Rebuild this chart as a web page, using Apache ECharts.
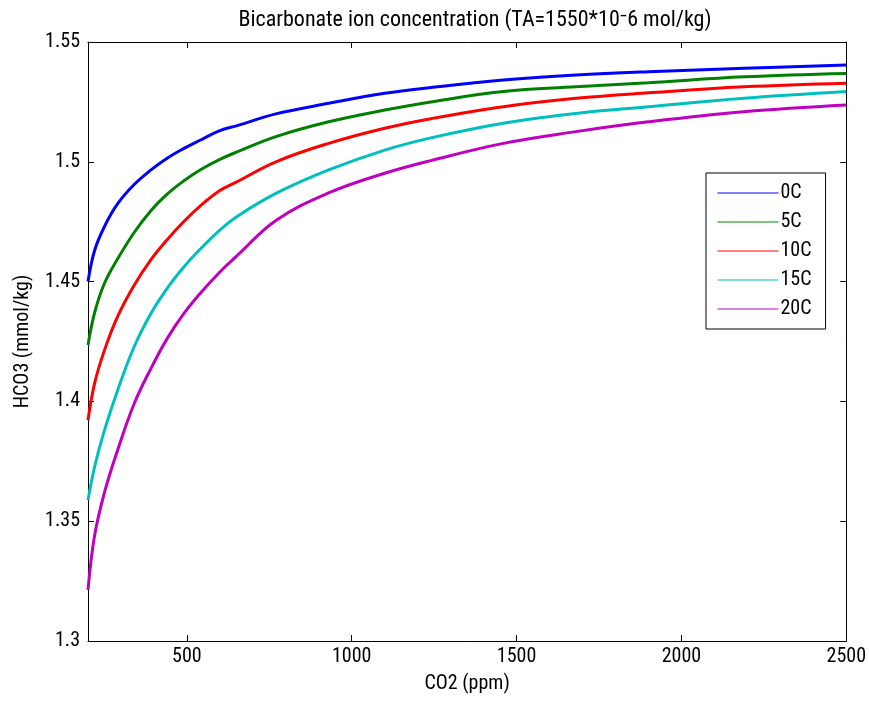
<!DOCTYPE html>
<html>
<head>
<meta charset="utf-8">
<script src="https://cdn.jsdelivr.net/npm/echarts@6/dist/echarts.min.js"></script>
<style>html,body{margin:0;padding:0;background:#fff;}#c{width:869px;height:702px;}</style>
</head>
<body>
<div id="c"></div>
<script>
const co2 = [200, 220, 250, 290, 340, 390, 440, 490, 540, 600, 650, 770, 930, 1100, 1240, 1460, 1680, 1900, 2190, 2500];
const t0  = [1.4500, 1.4630, 1.4730, 1.4825, 1.4905, 1.4965, 1.5015, 1.5055, 1.5090, 1.5130, 1.5150, 1.5200, 1.5244, 1.5286, 1.5310, 1.5341, 1.5362, 1.5376, 1.5390, 1.5404];
const t5  = [1.4235, 1.4370, 1.4493, 1.4595, 1.4705, 1.4795, 1.4865, 1.4920, 1.4966, 1.5010, 1.5040, 1.5105, 1.5167, 1.5216, 1.5250, 1.5293, 1.5313, 1.5330, 1.5355, 1.5369];
const t10 = [1.3922, 1.4075, 1.4214, 1.4355, 1.4485, 1.4590, 1.4675, 1.4750, 1.4815, 1.4880, 1.4915, 1.5000, 1.5077, 1.5140, 1.5180, 1.5230, 1.5265, 1.5288, 1.5313, 1.5328];
const t15 = [1.3588, 1.3727, 1.3880, 1.4047, 1.4228, 1.4365, 1.4472, 1.4560, 1.4635, 1.4715, 1.4770, 1.4868, 1.4966, 1.5049, 1.5100, 1.5161, 1.5202, 1.5230, 1.5265, 1.5293];
const t20 = [1.3213, 1.3440, 1.3620, 1.3797, 1.3990, 1.4135, 1.4262, 1.4365, 1.4450, 1.4540, 1.4605, 1.4755, 1.4870, 1.4952, 1.5005, 1.5077, 1.5126, 1.5167, 1.5209, 1.5237];
const seriesNames = ['0C', '5C', '10C', '15C', '20C'];
const seriesColors = ['#0000ff', '#008000', '#ff0000', '#00bfbf', '#bf00bf'];
const xTicks = [500, 1000, 1500, 2000, 2500];
const yTicks = [1.3, 1.35, 1.4, 1.45, 1.5, 1.55];

const allData = [t0, t5, t10, t15, t20];
const FONT = '"Roboto Condensed", "DejaVu Sans Condensed", "Liberation Sans", sans-serif';
const FS = 20;

const chart = echarts.init(document.getElementById('c'), null, {renderer: 'canvas'});
const tickStyle = {show: true, inside: true, length: 6, lineStyle: {color: '#000', width: 1}};
const option = {
  animation: false,
  backgroundColor: '#fff',
  title: {
    text: 'Bicarbonate ion concentration (TA=1550*10⁻6 mol/kg)',
    left: 470, top: 4, textAlign: 'center',
    textStyle: {fontFamily: FONT, fontSize: 22, fontWeight: 'normal', color: '#000'}
  },
  grid: {left: 88, right: 22, top: 42, bottom: 61, containLabel: false, show: false},
  legend: {
    data: seriesNames,
    orient: 'vertical',
    left: 706, top: 173,
    itemWidth: 61, itemHeight: 14, itemGap: 9,
    padding: [10, 14, 10, 11],
    backgroundColor: '#fff',
    borderColor: '#000', borderWidth: 1,
    itemStyle: {opacity: 0},
    lineStyle: {width: 1},
    textStyle: {fontFamily: FONT, fontSize: FS, lineHeight: 20, color: '#000', padding: [0, 0, 0, -3]}
  },
  xAxis: [{
    type: 'value', min: 200, max: 2500,
    name: 'CO2 (ppm)', nameLocation: 'middle', nameGap: 33,
    nameTextStyle: {fontFamily: FONT, fontSize: FS, color: '#000'},
    axisLine: {show: true, onZero: false, lineStyle: {color: '#000', width: 1}},
    axisTick: Object.assign({customValues: xTicks}, tickStyle),
    axisLabel: {customValues: xTicks, fontFamily: FONT, fontSize: FS, color: '#000', margin: 6,
      formatter: v => String(v)},
    splitLine: {show: false}
  }, {
    type: 'value', min: 200, max: 2500, position: 'top',
    axisLine: {show: true, onZero: false, lineStyle: {color: '#000', width: 1}},
    axisTick: Object.assign({customValues: xTicks}, tickStyle),
    axisLabel: {show: false},
    splitLine: {show: false}
  }],
  yAxis: [{
    type: 'value', min: 1.3, max: 1.55, interval: 0.05,
    name: 'HCO3 (mmol/kg)', nameLocation: 'middle', nameGap: 55, nameRotate: 90,
    nameTextStyle: {fontFamily: FONT, fontSize: FS, color: '#000'},
    axisLine: {show: true, onZero: false, lineStyle: {color: '#000', width: 1}},
    axisTick: Object.assign({customValues: yTicks}, tickStyle),
    axisLabel: {customValues: yTicks, fontFamily: FONT, fontSize: FS, color: '#000', margin: 8,
      formatter: v => String(parseFloat(v.toFixed(2)))},
    splitLine: {show: false}
  }, {
    type: 'value', min: 1.3, max: 1.55, interval: 0.05, position: 'right',
    axisLine: {show: true, onZero: false, lineStyle: {color: '#000', width: 1}},
    axisTick: Object.assign({customValues: yTicks}, tickStyle),
    axisLabel: {show: false},
    splitLine: {show: false}
  }],
  series: seriesNames.map((n, i) => ({
    name: n, type: 'line', xAxisIndex: 0, yAxisIndex: 0,
    data: co2.map((x, j) => [x, allData[i][j]]),
    symbol: 'none', smooth: 0.4,
    color: seriesColors[i],
    lineStyle: {color: seriesColors[i], width: 3}
  }))
};
chart.setOption(option);
</script>
</body>
</html>
